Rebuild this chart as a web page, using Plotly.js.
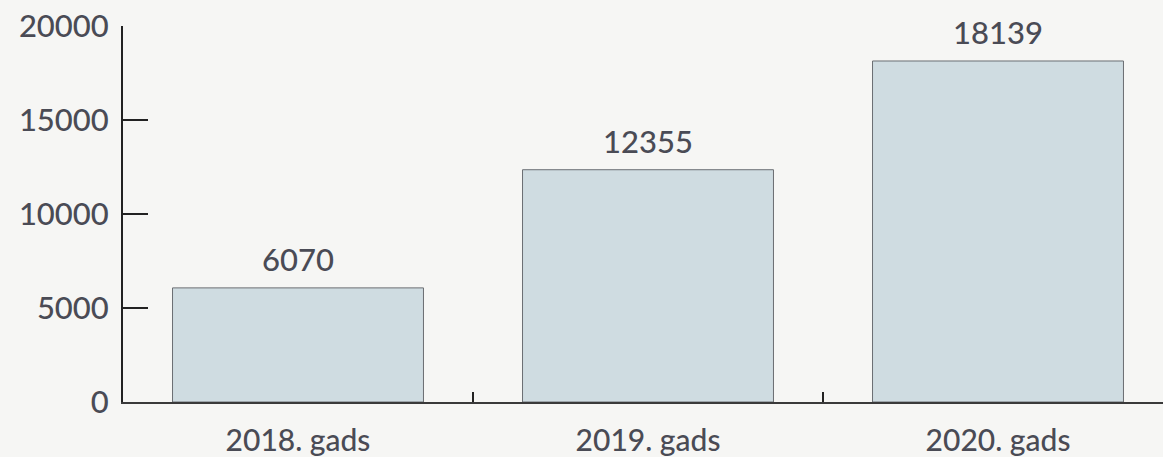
<!DOCTYPE html>
<html>
<head>
<meta charset="utf-8">
<script src="https://cdn.plot.ly/plotly-3.0.1.min.js"></script>
<style>html,body{margin:0;padding:0;background:#f6f6f4;}#chart{width:1163px;height:457px;}</style>
</head>
<body>
<div id="chart"></div>
<script>
const categories = ["2018. gads", "2019. gads", "2020. gads"];
const values = [6070, 12355, 18139];
const yTicks = [0, 5000, 10000, 15000, 20000];

const textColor = "#4a4b55";
const fontFamily = "Lato, 'Noto Sans', sans-serif";

const trace = {
  type: "bar",
  x: categories,
  y: values,
  width: 0.717,
  marker: {color: "#cfdce1", line: {color: "#6a6e72", width: 1}},
  hoverinfo: "skip"
};

const annotations = categories.map((c, i) => ({
  x: c, y: values[i], xref: "x", yref: "y",
  text: String(values[i]), showarrow: false,
  yanchor: "bottom", yshift: 8,
  font: {family: fontFamily, size: 31, color: textColor, weight: 500}
}));

const layout = {
  width: 1163, height: 457,
  margin: {l: 123, r: 0, t: 26, b: 55},
  paper_bgcolor: "#f6f6f4",
  plot_bgcolor: "#f6f6f4",
  showlegend: false,
  font: {family: fontFamily, size: 31, color: textColor},
  xaxis: {
    type: "category",
    range: [-0.5, 2.4714],
    showline: true, linecolor: "#3a3a3a", linewidth: 2,
    ticks: "inside", tickson: "boundaries", ticklen: 10, tickwidth: 2, tickcolor: "#222",
    showgrid: false, zeroline: false,
    ticklabelstandoff: 11,
    tickfont: {family: fontFamily, size: 30, color: textColor, weight: 500}
  },
  yaxis: {
    range: [0, 20000],
    tickvals: yTicks,
    ticktext: yTicks.map(String),
    showline: true, linecolor: "#222", linewidth: 2,
    ticks: "inside", ticklen: 25, tickwidth: 2, tickcolor: "#222",
    showgrid: false, zeroline: false,
    ticklabelstandoff: 6,
    tickfont: {family: fontFamily, size: 31, color: textColor, weight: 500}
  },
  annotations: annotations
};

Plotly.newPlot("chart", [trace], layout, {displayModeBar: false, staticPlot: true});
</script>
</body>
</html>
